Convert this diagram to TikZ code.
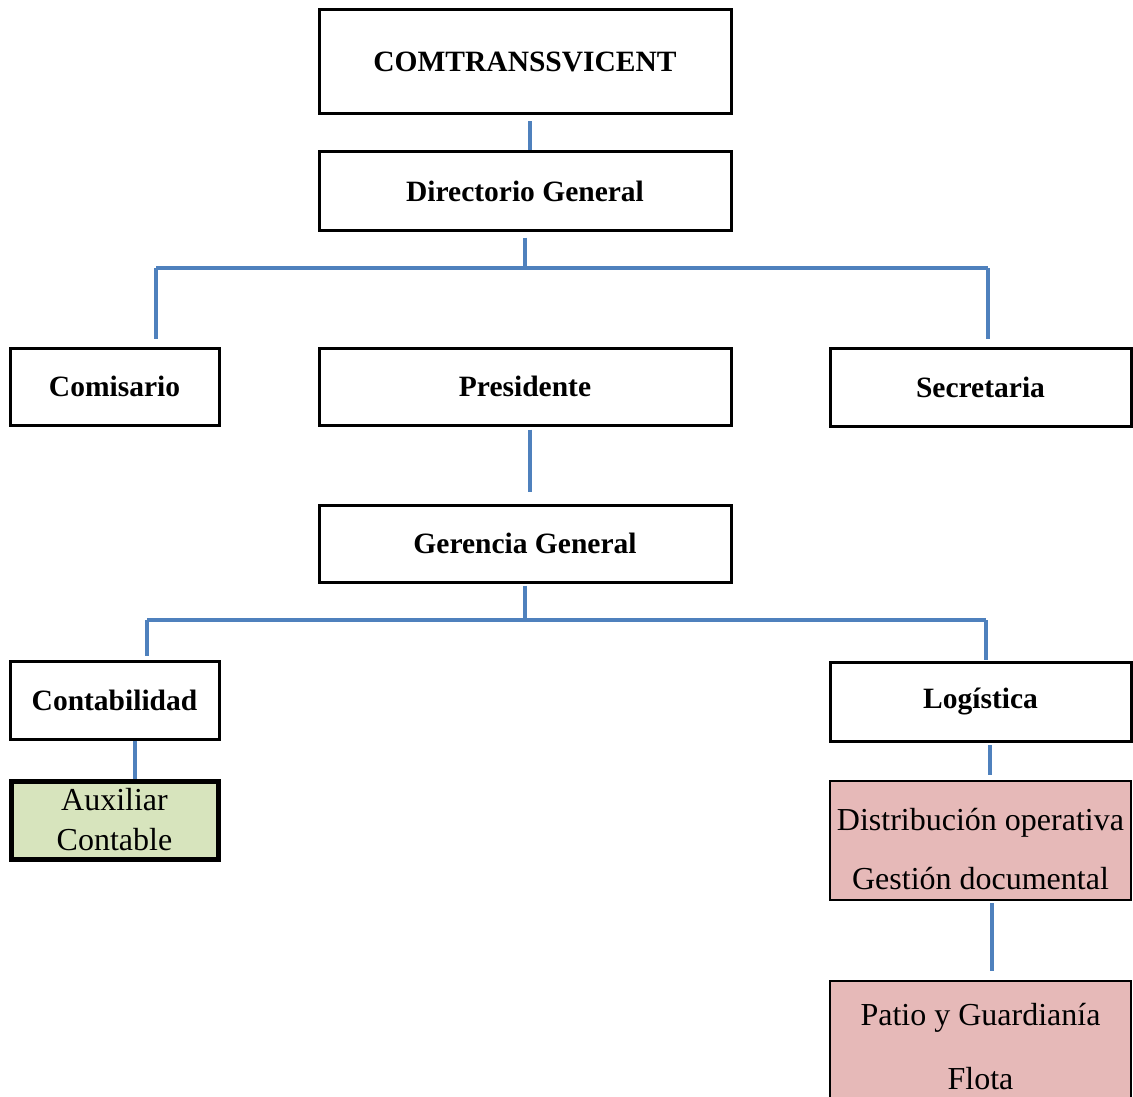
\documentclass[tikz,border=0pt]{standalone}
\usepackage{fontspec}
\setmainfont{Liberation Serif}
\definecolor{linkblue}{RGB}{79,129,189}
\definecolor{auxgreen}{RGB}{215,228,189}
\definecolor{opspink}{RGB}{230,185,184}
\begin{document}
\begin{tikzpicture}[x=1pt,y=-1pt,
  box/.style={draw=black,line width=3pt,fill=white,inner sep=0pt,align=center,
    font=\fontsize{29.5}{34}\selectfont\bfseries},
  subbox/.style={draw=black,line width=2.8pt,inner sep=0pt,align=center,
    font=\fontsize{32}{37}\selectfont},
  conn/.style={draw=linkblue,line width=3.4pt}]
\useasboundingbox (0,0) rectangle (1133,1097);
\begin{scope}
\clip (0,0) rectangle (1133,1097);

% boxes of the chart
\node[box,minimum width=412pt,minimum height=104pt] (top) at (525,62) {COMTRANSSVICENT};
\node[box,minimum width=412pt,minimum height=78pt] (dir) at (525,191) {Directorio General};
\node[box,minimum width=209pt,minimum height=77pt] (com) at (114.5,386.5) {Comisario};
\node[box,minimum width=412pt,minimum height=77pt] (pres) at (525,386.5) {Presidente};
\node[box,minimum width=301pt,minimum height=78pt] (sec) at (980.5,387) {Secretaria};
\node[box,minimum width=412pt,minimum height=77pt] (ger) at (525,543.5) {Gerencia General};
\node[box,minimum width=209pt,minimum height=78pt] (cont) at (114.5,700) {Contabilidad};
\node[box,minimum width=301pt,minimum height=79pt] (log) at (980.5,702) {Logística};
\node[subbox,line width=5pt,fill=auxgreen,minimum width=207pt,minimum height=78pt] (aux) at (114.5,820)
  {Auxiliar\\[3pt]Contable};
\node[subbox,fill=opspink,minimum width=301pt,minimum height=119pt] (dist) at (980.5,840.5) {};
\node[subbox,draw=none,anchor=center] (distText) at (980.5,849.5)
  {Distribución operativa\\[22pt]Gestión documental};
\node[subbox,fill=opspink,minimum width=301pt,minimum height=132pt] (patio) at (980.5,1047)
  {Patio y Guardianía\\[27pt]Flota};

% junction points of the connector buses
\coordinate (busA) at (525,268);
\coordinate (busAL) at (156,268);
\coordinate (busAR) at (988,268);
\coordinate (busB) at (525,620);
\coordinate (busBL) at (147,620);
\coordinate (busBR) at (986,620);

% connectors
\draw[conn] ([xshift=5pt,yshift=-6pt]top.south) -- ([xshift=5pt]dir.north);
\draw[conn] ([yshift=-6pt]dir.south) -- (busA);
\draw[conn] (busAL) -- (busAR);
\draw[conn] (busAL) -- ([yshift=8pt]busAL |- com.north);
\draw[conn] (busAR) -- ([yshift=8pt]busAR |- sec.north);
\draw[conn] ([xshift=5pt,yshift=-3pt]pres.south) -- ([xshift=5pt,yshift=12pt]ger.north);
\draw[conn] ([yshift=-2pt]ger.south) -- (busB);
\draw[conn] (busBL) -- (busBR);
\draw[conn] (busBL) -- ([yshift=4pt]busBL |- cont.north);
\draw[conn] (busBR) -- ([yshift=1pt]busBR |- log.north);
\draw[conn] ([xshift=20.5pt]cont.south) -- ([xshift=20.5pt]aux.north);
\draw[conn] ([xshift=9.5pt,yshift=-2pt]log.south) -- ([xshift=9.5pt,yshift=5pt]dist.north);
\draw[conn] ([xshift=11.5pt,yshift=-2pt]dist.south) -- ([xshift=11.5pt,yshift=9pt]patio.north);
\end{scope}
\end{tikzpicture}
\end{document}
